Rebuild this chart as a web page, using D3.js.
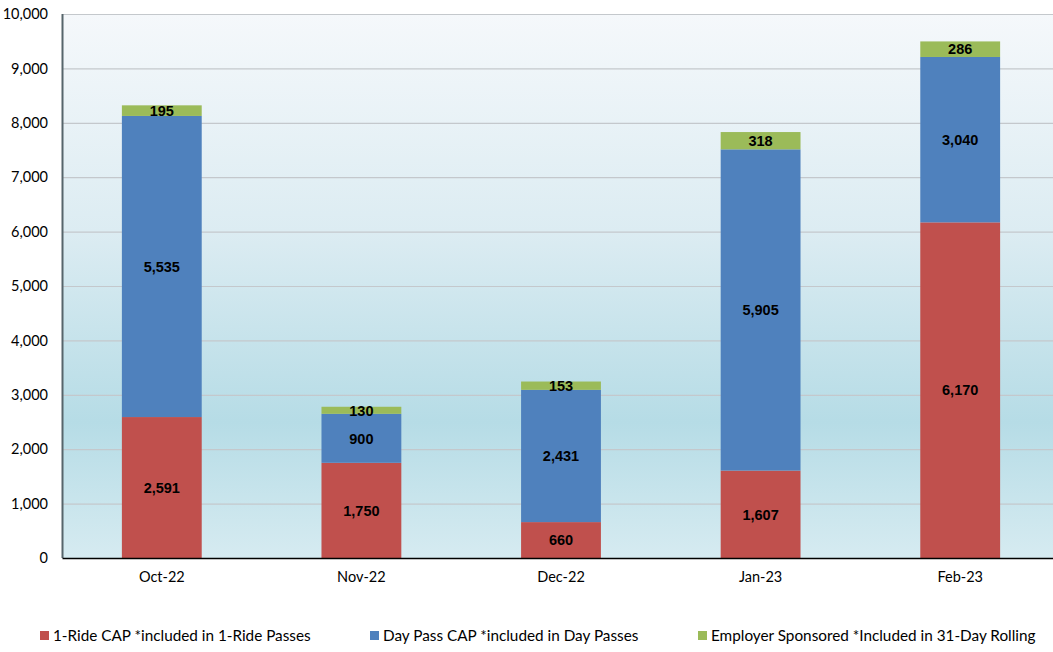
<!DOCTYPE html>
<html>
<head>
<meta charset="utf-8">
<script src="https://cdn.jsdelivr.net/npm/d3@7/dist/d3.min.js"></script>
<style>
  html, body { margin: 0; padding: 0; background: #ffffff; overflow: hidden; }
  svg { display: block; }
</style>
</head>
<body>
<svg id="chart" width="1053" height="652"></svg>
<script>
// Monthly CAP / employer pass counts
const months = ["Oct-22", "Nov-22", "Dec-22", "Jan-23", "Feb-23"];
const oneRideCap = [2591, 1750, 660, 1607, 6170];
const dayPassCap = [5535, 900, 2431, 5905, 3040];
const employerSponsored = [195, 130, 153, 318, 286];
const seriesNames = [
  "1-Ride CAP *included in 1-Ride Passes",
  "Day Pass CAP *included in Day Passes",
  "Employer Sponsored *Included in 31-Day Rolling"
];
const yTicks = [0, 1000, 2000, 3000, 4000, 5000, 6000, 7000, 8000, 9000, 10000];

const colors = ["#c0504d", "#4f81bd", "#9bbb59"];

const svg = d3.select("#chart");
const margin = { left: 62, top: 14, bottom: 94 };
const W = 1053, H = 652;
const plotW = 998;               // plot area runs slightly past the right edge
const visibleW = W - margin.left;
const plotH = H - margin.top - margin.bottom;

const x = d3.scaleBand().domain(months).range([0, plotW]).paddingInner(0.6).paddingOuter(0.3);
const y = d3.scaleLinear().domain([0, 10000]).range([plotH, 0]);

// plot background gradient
const defs = svg.append("defs");
const grad = defs.append("linearGradient").attr("id", "bg").attr("x1", 0).attr("y1", 0).attr("x2", 0).attr("y2", 1);
grad.append("stop").attr("offset", "0%").attr("stop-color", "#f5f8fb");
grad.append("stop").attr("offset", "40%").attr("stop-color", "#dcecf2");
grad.append("stop").attr("offset", "75%").attr("stop-color", "#b6dce6");
grad.append("stop").attr("offset", "100%").attr("stop-color", "#d6ebf1");

const g = svg.append("g").attr("transform", `translate(${margin.left},${margin.top})`);

g.append("rect").attr("x", 0).attr("y", 0).attr("width", visibleW).attr("height", plotH).attr("fill", "url(#bg)");

// gridlines
g.append("g").selectAll("line").data(yTicks.filter(d => d > 0)).join("line")
  .attr("x1", 0).attr("x2", visibleW)
  .attr("y1", d => y(d) + 0.5).attr("y2", d => y(d) + 0.5)
  .attr("stroke", "#c4c8cc").attr("stroke-width", 1.2);

// stacked data
const rows = months.map((m, i) => ({ month: m, a: oneRideCap[i], b: dayPassCap[i], c: employerSponsored[i] }));
const stack = d3.stack().keys(["a", "b", "c"])(rows);

const layers = g.append("g").selectAll("g").data(stack).join("g").attr("fill", (d, i) => colors[i]);
layers.selectAll("rect").data(d => d).join("rect")
  .attr("x", d => x(d.data.month))
  .attr("width", x.bandwidth())
  .attr("y", d => y(d[1]))
  .attr("height", d => y(d[0]) - y(d[1]));

// value labels
const labelFont = "'Liberation Sans', Arial, sans-serif";
stack.forEach(layer => {
  g.append("g").selectAll("text").data(layer).join("text")
    .attr("x", d => x(d.data.month) + x.bandwidth() / 2)
    .attr("y", d => (y(d[0]) + y(d[1])) / 2)
    .attr("dy", "0.36em")
    .attr("text-anchor", "middle")
    .attr("font-family", labelFont)
    .attr("font-weight", "bold")
    .attr("font-size", 14.5)
    .attr("fill", "#000")
    .text(d => d3.format(",")(d[1] - d[0]));
});

// axes
const axisFont = "Lato, 'Open Sans', sans-serif";
const yAxis = g.append("g").call(d3.axisLeft(y).tickValues(yTicks).tickSize(0).tickPadding(14).tickFormat(d3.format(",")));
yAxis.select(".domain").remove();
yAxis.selectAll("text").attr("font-family", axisFont).attr("font-size", 14.5).attr("fill", "#000");

g.append("line").attr("x1", 0.5).attr("x2", 0.5).attr("y1", 0).attr("y2", plotH)
  .attr("stroke", "#56656b").attr("stroke-width", 2);

const xAxis = g.append("g").attr("transform", `translate(0,${plotH})`)
  .call(d3.axisBottom(x).tickSize(0).tickPadding(14));
xAxis.select(".domain").attr("stroke", "#000").attr("stroke-width", 1.5);
xAxis.selectAll("text").attr("font-family", axisFont).attr("font-size", 14.5).attr("fill", "#000");

// legend
const legendX = [40, 370, 698];
const legend = svg.append("g").selectAll("g").data(seriesNames).join("g")
  .attr("transform", (d, i) => `translate(${legendX[i]},636)`);
legend.append("rect").attr("x", 0).attr("y", -5).attr("width", 9).attr("height", 9)
  .attr("fill", (d, i) => colors[i]);
legend.append("text").attr("x", 13).attr("y", 0).attr("dy", "0.35em")
  .attr("font-family", axisFont).attr("font-size", 15.3).attr("fill", "#000")
  .text(d => d);
</script>
</body>
</html>
